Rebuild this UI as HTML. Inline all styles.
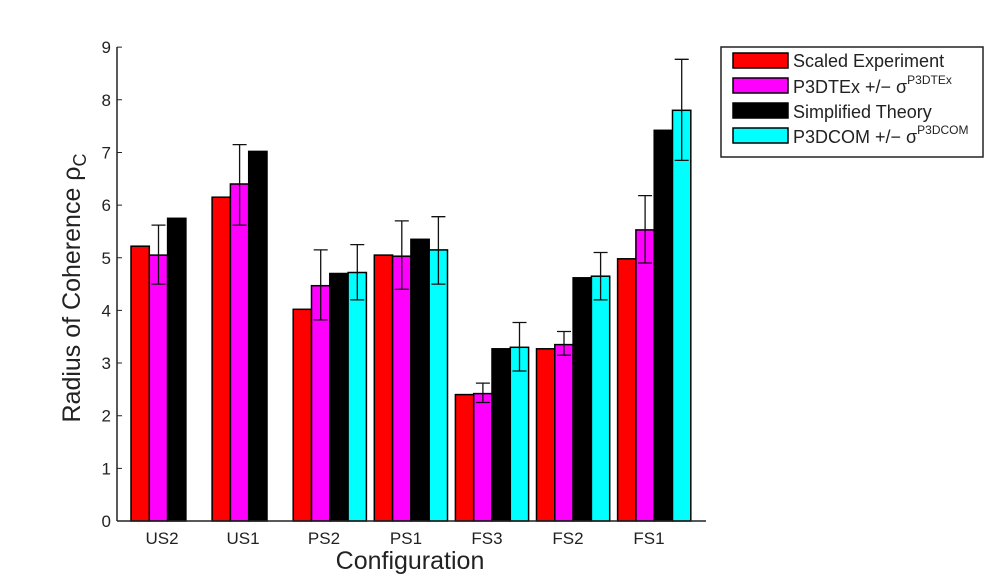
<!DOCTYPE html>
<html><head><style>body{margin:0;background:#fff}svg{display:block}text{font-family:"Liberation Sans",sans-serif}</style></head>
<body>
<svg width="1004" height="581" xmlns="http://www.w3.org/2000/svg">
<g stroke="#000" stroke-width="1.5">
<rect x="131" y="246.2" width="18.3" height="274.8" fill="#f00"/>
<rect x="149.3" y="255.1" width="18.3" height="265.9" fill="#f0f"/>
<rect x="167.6" y="218.3" width="18.3" height="302.7" fill="#000"/>
<rect x="212.1" y="197.2" width="18.3" height="323.8" fill="#f00"/>
<rect x="230.4" y="184" width="18.3" height="337" fill="#f0f"/>
<rect x="248.7" y="151.4" width="18.3" height="369.6" fill="#000"/>
<rect x="293.2" y="309.3" width="18.3" height="211.7" fill="#f00"/>
<rect x="311.5" y="285.7" width="18.3" height="235.3" fill="#f0f"/>
<rect x="329.8" y="273.5" width="18.3" height="247.5" fill="#000"/>
<rect x="348.1" y="272.5" width="18.3" height="248.5" fill="#0ff"/>
<rect x="374.3" y="255.1" width="18.3" height="265.9" fill="#f00"/>
<rect x="392.6" y="256.2" width="18.3" height="264.8" fill="#f0f"/>
<rect x="410.9" y="239.3" width="18.3" height="281.7" fill="#000"/>
<rect x="429.2" y="249.9" width="18.3" height="271.1" fill="#0ff"/>
<rect x="455.4" y="394.6" width="18.3" height="126.4" fill="#f00"/>
<rect x="473.7" y="393.6" width="18.3" height="127.4" fill="#f0f"/>
<rect x="492" y="348.8" width="18.3" height="172.2" fill="#000"/>
<rect x="510.3" y="347.3" width="18.3" height="173.7" fill="#0ff"/>
<rect x="536.5" y="348.8" width="18.3" height="172.2" fill="#f00"/>
<rect x="554.8" y="344.6" width="18.3" height="176.4" fill="#f0f"/>
<rect x="573.1" y="277.8" width="18.3" height="243.2" fill="#000"/>
<rect x="591.4" y="276.2" width="18.3" height="244.8" fill="#0ff"/>
<rect x="617.6" y="258.8" width="18.3" height="262.2" fill="#f00"/>
<rect x="635.9" y="229.9" width="18.3" height="291.1" fill="#f0f"/>
<rect x="654.2" y="130.3" width="18.3" height="390.7" fill="#000"/>
<rect x="672.5" y="110.3" width="18.3" height="410.7" fill="#0ff"/>
</g>
<g stroke="#111" stroke-width="1.3" fill="none">
<path d="M158.5 284.1V225.1M151.5 284.1h14M151.5 225.1h14"/>
<path d="M239.6 225.1V144.6M232.6 225.1h14M232.6 144.6h14"/>
<path d="M320.7 319.9V249.9M313.7 319.9h14M313.7 249.9h14"/>
<path d="M357.3 299.9V244.6M350.3 299.9h14M350.3 244.6h14"/>
<path d="M401.8 289.3V220.9M394.8 289.3h14M394.8 220.9h14"/>
<path d="M438.4 284.1V216.7M431.4 284.1h14M431.4 216.7h14"/>
<path d="M482.9 402.5V383.1M475.9 402.5h14M475.9 383.1h14"/>
<path d="M519.5 371V322.5M512.5 371h14M512.5 322.5h14"/>
<path d="M564 355.2V331.5M557 355.2h14M557 331.5h14"/>
<path d="M600.6 299.9V252.5M593.6 299.9h14M593.6 252.5h14"/>
<path d="M645.1 263V195.6M638.1 263h14M638.1 195.6h14"/>
<path d="M681.7 160.4V59.3M674.7 160.4h14M674.7 59.3h14"/>
</g>
<line x1="117" y1="47" x2="117" y2="521" stroke="#222" stroke-width="1.5"/>
<line x1="117" y1="521" x2="706" y2="521" stroke="#222" stroke-width="1.5"/>
<g stroke="#222" stroke-width="1">
<path d="M117 468.35h5M117 415.7h5M117 363.05h5M117 310.4h5M117 257.75h5M117 205.1h5M117 152.45h5M117 99.8h5M117 47.15h5"/>
</g>
<g font-size="17" fill="#222" text-anchor="end">
<text x="111" y="527">0</text><text x="111" y="474.4">1</text><text x="111" y="421.7">2</text>
<text x="111" y="369">3</text><text x="111" y="316.4">4</text><text x="111" y="263.8">5</text>
<text x="111" y="211.1">6</text><text x="111" y="158.5">7</text><text x="111" y="105.8">8</text>
<text x="111" y="53.2">9</text>
</g>
<g font-size="17" fill="#222" text-anchor="middle">
<text x="162" y="544">US2</text><text x="243" y="544">US1</text><text x="324" y="544">PS2</text>
<text x="406" y="544">PS1</text><text x="487" y="544">FS3</text><text x="568" y="544">FS2</text>
<text x="649" y="544">FS1</text>
</g>
<text x="410" y="569" font-size="25" text-anchor="middle" fill="#222">Configuration</text>
<text transform="translate(80,288) rotate(-90)" font-size="25" text-anchor="middle" fill="#222">Radius of Coherence ρ<tspan font-size="18" dy="6">C</tspan></text>
<rect x="721" y="47" width="262" height="110" fill="#fff" stroke="#222" stroke-width="1.5"/>
<g stroke="#000" stroke-width="1.5">
<rect x="733" y="53" width="55" height="15" fill="#f00"/>
<rect x="733" y="78" width="55" height="15" fill="#f0f"/>
<rect x="733" y="103" width="55" height="15" fill="#000"/>
<rect x="733" y="128" width="55" height="15" fill="#0ff"/>
</g>
<g font-size="18" fill="#222">
<text x="793" y="67">Scaled Experiment</text>
<text x="793" y="93">P3DTEx +/− σ<tspan font-size="12" dy="-9">P3DTEx</tspan></text>
<text x="793" y="118">Simplified Theory</text>
<text x="793" y="143">P3DCOM +/− σ<tspan font-size="12" dy="-9">P3DCOM</tspan></text>
</g>
</svg>
</body></html>
